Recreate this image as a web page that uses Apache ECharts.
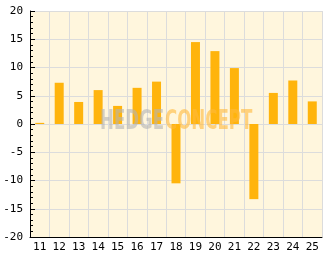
<!DOCTYPE html>
<html><head><meta charset="utf-8">
<script src="https://cdn.jsdelivr.net/npm/echarts@6/dist/echarts.min.js"></script>
<style>html,body{margin:0;padding:0;background:#fff}#c{width:332px;height:269px}</style>
</head><body><div id="c"></div>
<script>
var categories = ['11','12','13','14','15','16','17','18','19','20','21','22','23','24','25'];
var values = [0.2, 7.3, 3.9, 6.0, 3.2, 6.4, 7.5, -10.5, 14.5, 12.9, 9.9, -13.3, 5.5, 7.7, 4.0];
var yTicks = {min: -20, max: 20, step: 5};

var chart = echarts.init(document.getElementById('c'));
var font = '"DejaVu Sans Mono", monospace';
var wmFont = 'bold 27px "DejaVu Sans Condensed", sans-serif';
chart.setOption({
  animation: false,
  grid: {left: 30, right: 10, top: 11, bottom: 32, show: true, backgroundColor: '#FFF6DD', borderWidth: 0},
  xAxis: {
    type: 'category', data: categories, boundaryGap: true,
    axisLine: {onZero: false, lineStyle: {color: '#000', width: 1}},
    axisTick: {inside: true, length: 5, alignWithLabel: false, lineStyle: {color: '#000'}},
    axisLabel: {color: '#000', fontFamily: font, fontSize: 11, margin: 5},
    splitLine: {show: true, lineStyle: {color: '#dcdcdc', width: 1}}
  },
  yAxis: {
    type: 'value', min: yTicks.min, max: yTicks.max, interval: yTicks.step,
    axisLine: {show: true, lineStyle: {color: '#000', width: 1}},
    axisTick: {show: true, inside: true, length: 5, lineStyle: {color: '#000'}},
    minorTick: {show: true, splitNumber: 5, length: 3, lineStyle: {color: '#000'}},
    axisLabel: {color: '#000', fontFamily: font, fontSize: 11, margin: 7},
    splitLine: {show: true, lineStyle: {color: '#dcdcdc', width: 1}}
  },
  series: [{
    type: 'bar', data: values, barWidth: 9, barMinHeight: 1,
    itemStyle: {color: '#FFB40C'}
  }],
  graphic: [
    {type: 'text', x: 100, y: 108, scaleX: 0.685, z: 100, style: {text: 'HEDGE', fill: 'rgba(180,180,180,0.6)', font: wmFont, textVerticalAlign: 'top'}},
    {type: 'text', x: 165, y: 108, scaleX: 0.685, z: 100, style: {text: 'CONCEPT', fill: 'rgba(255,185,60,0.6)', font: wmFont, textVerticalAlign: 'top'}}
  ]
});
</script></body></html>
